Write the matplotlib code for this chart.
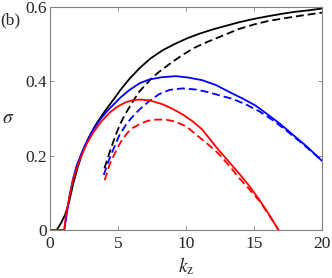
import matplotlib.pyplot as plt

plt.rcParams['font.family'] = 'Liberation Serif'
plt.rcParams['mathtext.fontset'] = 'stix'

# black: solid and dashed
k_black = [0, 0.49, 0.8, 1.1, 1.4, 1.71, 2.05, 2.44, 2.9, 3.41, 4.0, 4.63, 5.2, 5.85, 6.6,
           7.4, 8.3, 9.2, 10.1, 10.97, 12, 13, 13.9, 15, 16, 17.1, 18, 19, 20]
s_black = [0, 0, 0.018, 0.04, 0.075, 0.125, 0.17, 0.215, 0.252, 0.286, 0.318, 0.349, 0.378, 0.407, 0.436,
           0.462, 0.484, 0.501, 0.516, 0.528, 0.54, 0.55, 0.559, 0.568, 0.575, 0.582, 0.587, 0.591, 0.596]
k_black_d = [4.0, 4.3, 4.6, 4.88, 5.2, 5.5, 5.85, 6.2, 6.54, 7.0, 7.44, 8.0, 8.8, 9.7, 10.6,
             11.5, 12.5, 13.9, 15, 16, 17.1, 18.5, 20]
s_black_d = [0.166, 0.2, 0.232, 0.26, 0.288, 0.31, 0.331, 0.352, 0.371, 0.39, 0.407, 0.425, 0.447, 0.47, 0.49,
             0.505, 0.52, 0.541, 0.553, 0.562, 0.569, 0.577, 0.585]

# blue
k_blue = [0, 1.05, 1.2, 1.46, 1.71, 1.95, 2.3, 2.7, 3.2, 3.7, 4.2, 4.63, 5.2, 5.85, 6.6, 7.3,
          8.2, 9.27, 10.2, 11.2, 12.2, 13.2, 14.2, 15.1, 16.0, 16.9, 17.8, 18.9, 20]
s_blue = [0, 0, 0.035, 0.097, 0.14, 0.172, 0.205, 0.238, 0.272, 0.298, 0.32, 0.336, 0.357, 0.377, 0.395, 0.405,
          0.411, 0.414, 0.41, 0.403, 0.39, 0.371, 0.353, 0.335, 0.311, 0.286, 0.258, 0.224, 0.186]
k_blue_d = [3.95, 4.3, 4.63, 5.1, 5.6, 6.0, 6.54, 7.3, 8.0, 8.78, 9.75, 10.7, 11.5, 12.4, 13.4,
            14.4, 15.4, 16.4, 17.4, 18.4, 19.2, 20]
s_blue_d = [0.148, 0.185, 0.215, 0.255, 0.284, 0.302, 0.323, 0.347, 0.365, 0.377, 0.381, 0.378, 0.372, 0.363, 0.353,
            0.338, 0.319, 0.295, 0.267, 0.237, 0.212, 0.186]

# red
k_red = [0, 1.05, 1.15, 1.34, 1.46, 1.71, 2.2, 2.7, 3.17, 3.8, 4.39, 5.0, 5.6, 6.1, 6.6, 7.3, 8.3,
         9.0, 9.75, 10.5, 11.2, 12.2, 13.0, 13.9, 14.6, 15.4, 16.1, 16.8]
s_red = [0, 0, 0.035, 0.072, 0.095, 0.138, 0.19, 0.232, 0.262, 0.293, 0.316, 0.333, 0.344, 0.349, 0.351, 0.349, 0.338,
         0.326, 0.311, 0.292, 0.27, 0.224, 0.19, 0.152, 0.121, 0.081, 0.042, 0]
k_red_d = [4.02, 4.4, 4.88, 5.3, 5.73, 6.1, 6.6, 7.2, 7.8, 8.5, 9.2, 10.0, 10.97, 11.7, 12.4,
           13.2, 13.9, 14.6, 15.4, 16.1, 16.8]
s_red_d = [0.134, 0.178, 0.215, 0.243, 0.263, 0.275, 0.285, 0.294, 0.297, 0.297, 0.292, 0.279, 0.25, 0.228, 0.205,
           0.172, 0.14, 0.112, 0.078, 0.04, 0]

fig = plt.figure(figsize=(3.32, 2.78), dpi=100)
ax = fig.add_axes([0.1506, 0.1727, 0.8194, 0.8021])

lw = 1.3
dash = (4.4, 2.2)
ax.plot(k_black, s_black, color='black', lw=lw)
ax.plot(k_black_d, s_black_d, color='black', lw=lw, dashes=dash)
ax.plot(k_blue, s_blue, color='#0000ff', lw=lw)
ax.plot(k_blue_d, s_blue_d, color='#0000ff', lw=lw, dashes=dash)
ax.plot(k_red, s_red, color='#ff0000', lw=lw)
ax.plot(k_red_d, s_red_d, color='#ff0000', lw=lw, dashes=dash)

ax.set_xlim(0, 20)
ax.set_ylim(0, 0.6)
ax.set_xticks([0, 5, 10, 15, 20])
ax.set_yticks([0, 0.2, 0.4, 0.6])
ax.set_yticklabels(['0', '0.2', '0.4', '0.6'])
ax.tick_params(direction='in', length=3, width=0.6, top=True, right=True,
               labelsize=12.5, colors='#808080', labelcolor='#262626', pad=2)
ax.tick_params(axis='x', pad=4)
for sp in ax.spines.values():
    sp.set_color('#808080')
    sp.set_linewidth(0.8)

fig.text(0.024, 0.575, r'$\sigma$', fontsize=14, color='#262626', ha='center', va='center')
ax.set_xlabel(r'$k_\mathrm{z}$', fontsize=14, color='#262626', labelpad=3)
fig.text(0.0, 0.925, '(b)', fontsize=12.5, color='#262626', ha='left', va='center')

fig.savefig('out.png', dpi=100)
